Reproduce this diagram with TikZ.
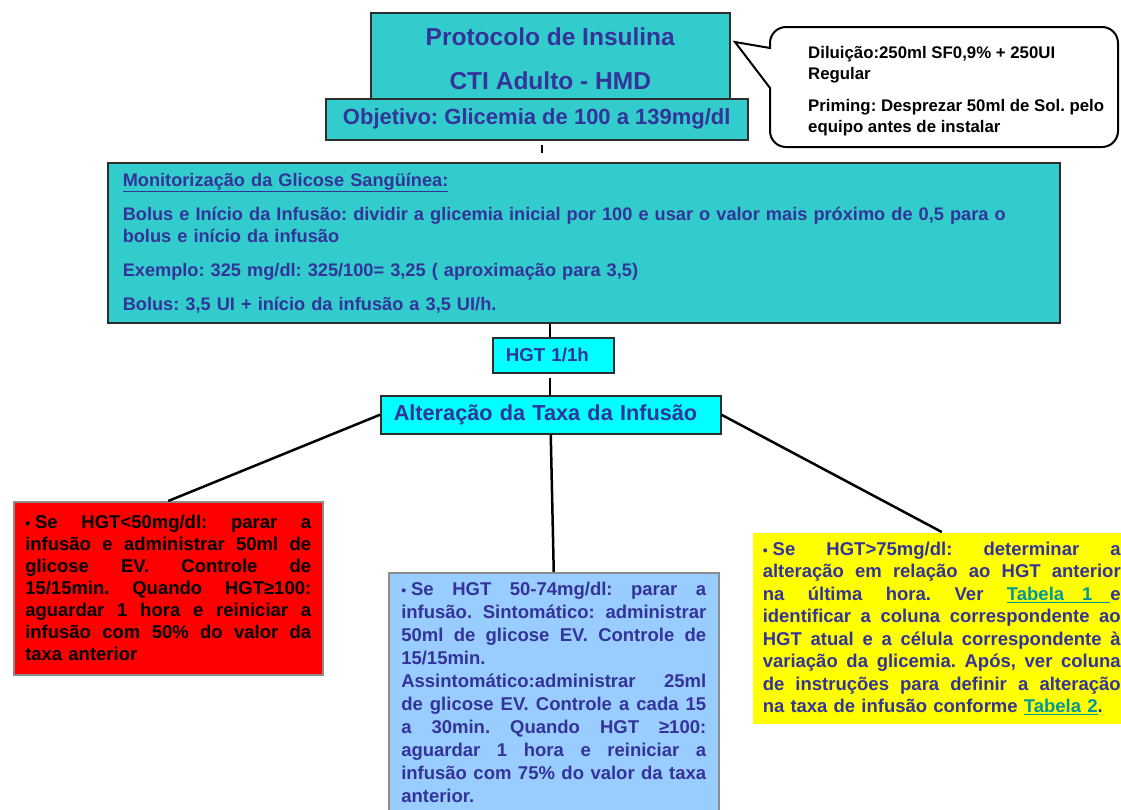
\documentclass[tikz,border=0pt]{standalone}
\usepackage{fontspec}
\setmainfont{Liberation Sans}
\usepackage{tikz}
\frenchspacing

\definecolor{tealbox}{RGB}{51,204,204}
\definecolor{cyanbox}{RGB}{0,255,255}
\definecolor{navy}{RGB}{51,51,153}
\definecolor{redbox}{RGB}{255,0,0}
\definecolor{bluebox}{RGB}{153,204,255}
\definecolor{yellowbox}{RGB}{255,255,0}
\definecolor{linkteal}{RGB}{0,153,153}
\definecolor{boxline}{RGB}{45,45,45}
\definecolor{grayline}{RGB}{140,140,140}

\newcommand{\jl}[1]{{\spaceskip=0pt\xspaceskip=0pt\makebox[\hsize][s]{#1}}}
\newcommand{\tablink}[1]{\textcolor{linkteal}{\underline{#1}}}
\newcommand{\bul}{{\fontsize{14}{14}\selectfont•}\hspace{5pt}}

\begin{document}
\begin{tikzpicture}[x=1pt,y=-1pt,
		box/.style={draw=boxline,line width=1.5pt,anchor=north west,inner sep=0pt},
		body/.style={font=\bfseries\fontsize{18.5}{22}\selectfont,align=left},
		link/.style={line width=2pt},
		branch/.style={line width=2.5pt}]
	\useasboundingbox (0,0) rectangle (1121,809);

	\node[box,fill=tealbox,minimum width=359pt,minimum height=92pt,text=navy,
		font=\bfseries\fontsize{24.5}{44}\selectfont,align=center] (title) at (370,12)
		{Protocolo de Insulina\\CTI Adulto - HMD};
	\node[box,fill=tealbox,minimum width=422pt,minimum height=41pt,text=navy,
		font=\bfseries\fontsize{22}{26}\selectfont] (obj) at (325,98)
		{Objetivo: Glicemia de 100 a 139mg/dl};

	\draw[line width=2pt] (770,88) -- (735,42) -- (770,48) [rounded corners=16pt]
		-- (770,27) -- (1118,27) -- (1118,147) -- (770,147) -- (770,110) [sharp corners] -- cycle;
	\node[anchor=north west,inner sep=0pt,align=left,
		font=\bfseries\fontsize{16.8}{21}\selectfont] (note) at (808,46)
		{Diluição:250ml SF0,9\% + 250UI\\Regular\\[11pt]Priming: Desprezar 50ml de Sol. pelo\\equipo antes de instalar};

	\node[box,body,fill=tealbox,minimum width=952pt,minimum height=160pt,text width=922pt,
		inner xsep=15pt,text=navy,font=\bfseries\fontsize{18.2}{22}\selectfont] (mon) at (107,162)
		{\underline{Monitorização da Glicose Sangüínea:}\\[12pt]
		Bolus e Início da Infusão: dividir a glicemia inicial por 100 e usar o valor mais próximo de 0,5 para o\\
		bolus e início da infusão\\[12pt]
		Exemplo: 325 mg/dl: 325/100= 3,25 ( aproximação para 3,5)\\[12pt]
		Bolus: 3,5 UI + início da infusão a 3,5 UI/h.};

	\node[box,fill=cyanbox,minimum width=121pt,minimum height=35pt,text width=95pt,inner xsep=13pt,
		align=left,text=navy,font=\bfseries\fontsize{18.7}{22}\selectfont] (hgt) at (492,337) {HGT 1/1h};
	\node[box,fill=cyanbox,minimum width=340pt,minimum height=38pt,text width=314pt,inner xsep=13pt,
		align=left,text=navy,font=\bfseries\fontsize{21.7}{26}\selectfont] (alt) at (380,395)
		{Alteração da Taxa da Infusão};

	\node[box,body,draw=grayline,fill=redbox,minimum height=173pt,text width=286pt,
		inner xsep=11.5pt,text=black] (low) at (13,501)
		{\jl{\bul Se HGT<50mg/dl: parar a}\\
		\jl{infusão e administrar 50ml de}\\
		\jl{glicose EV. Controle de}\\
		\jl{15/15min. Quando HGT≥100:}\\
		\jl{aguardar 1 hora e reiniciar a}\\
		\jl{infusão com 50\% do valor da}\\
		taxa anterior};

	\node[box,body,draw=grayline,fill=bluebox,text width=305pt,inner xsep=12.5pt,inner ysep=9pt,
		text=navy,font=\bfseries\fontsize{18.5}{23}\selectfont] (mid) at (388,572)
		{\jl{\bul Se HGT 50-74mg/dl: parar a}\\
		\jl{infusão. Sintomático: administrar}\\
		\jl{50ml de glicose EV. Controle de}\\
		15/15min.\\
		\jl{Assintomático:administrar 25ml}\\
		\jl{de glicose EV. Controle a cada 15}\\
		\jl{a 30min. Quando HGT ≥100:}\\
		\jl{aguardar 1 hora e reiniciar a}\\
		\jl{infusão com 75\% do valor da taxa}\\
		anterior.};

	\node[box,body,draw=none,fill=yellowbox,minimum height=191pt,text width=358pt,
		inner xsep=10pt,text=navy,font=\bfseries\fontsize{18.5}{22.5}\selectfont] (high) at (752,532)
		{\jl{\bul Se HGT>75mg/dl: determinar a}\\
		\jl{alteração em relação ao HGT anterior}\\
		\jl{na última hora. Ver \tablink{Tabela\hspace{18pt}1\hspace{18pt}}e}\\
		\jl{identificar a coluna correspondente ao}\\
		\jl{HGT atual e a célula correspondente à}\\
		\jl{variação da glicemia. Após, ver coluna}\\
		\jl{de instruções para definir a alteração}\\
		na taxa de infusão conforme \tablink{Tabela 2}.};

	\draw[link,shorten <=4pt,shorten >=9pt] ([xshift=5pt]obj.south) -- ([xshift=5pt]obj.south |- mon.north);
	\draw[link] ([xshift=-3pt]hgt.north) -- ([xshift=-3pt]hgt.north |- mon.south);
	\draw[link,shorten <=4pt] ([xshift=-3pt]hgt.south) -- ([xshift=-3pt]hgt.south |- alt.north);
	\draw[branch] (alt.west) -- (low.north);
	\draw[branch] (alt.south) -- (mid.north);
	\draw[branch] (alt.east) -- (high.north);
\end{tikzpicture}
\end{document}
